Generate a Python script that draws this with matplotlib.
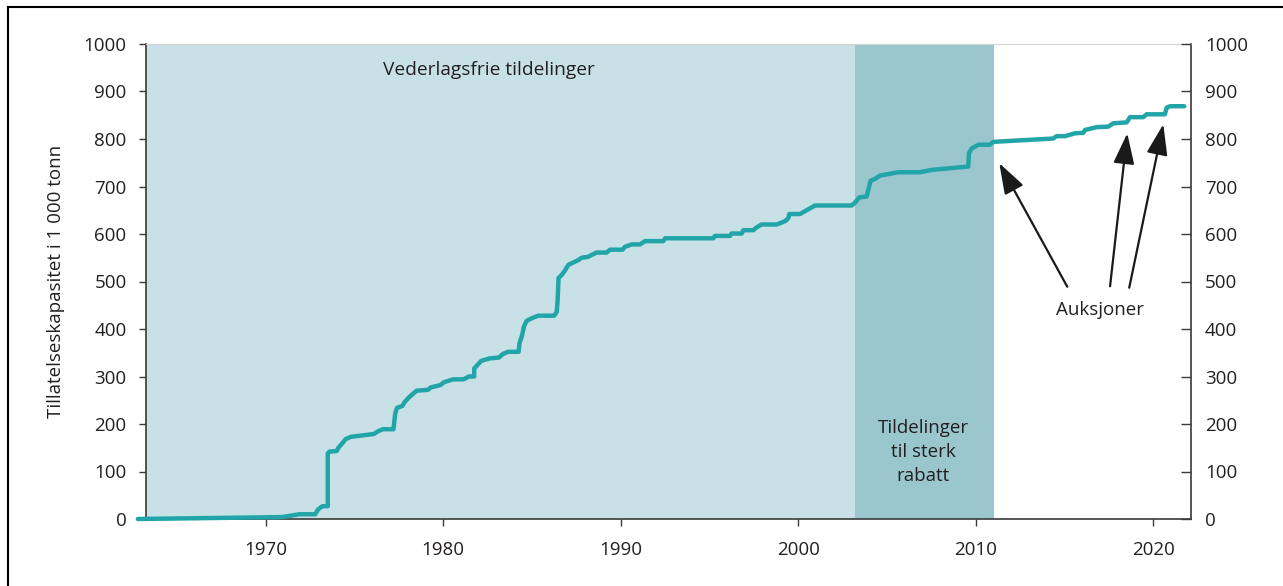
import matplotlib
matplotlib.use("Agg")
import matplotlib.pyplot as plt
from matplotlib.lines import Line2D

plt.rcParams['font.family'] = ['Open Sans', 'DejaVu Sans']

# year / allowed capacity (1000 tonn)
years = [1962.8, 1970.9, 1971.9, 1972.8, 1972.95, 1973.2, 1973.5, 1973.5, 1973.6, 1974.0,
         1974.1, 1974.4, 1974.5, 1974.8, 1976.1, 1976.3, 1976.6, 1977.2, 1977.3, 1977.4,
         1977.7, 1977.85, 1978.1, 1978.5, 1979.15, 1979.3, 1979.85, 1980.05, 1980.55, 1981.15,
         1981.45, 1981.75, 1981.75, 1982.15, 1982.6, 1983.15, 1983.35, 1983.65, 1984.25, 1984.3,
         1984.45, 1984.55, 1984.7, 1984.95, 1985.35, 1986.25, 1986.4, 1986.45, 1986.5, 1986.68,
         1986.86, 1987.05, 1987.33, 1987.61, 1987.8, 1988.17, 1988.37, 1988.65, 1989.21, 1989.4,
         1990.11, 1990.24, 1990.62, 1991.09, 1991.37, 1992.4, 1992.5, 1995.22, 1995.31, 1996.16,
         1996.25, 1996.82, 1996.91, 1997.47, 1997.66, 1997.94, 1998.79, 1999.26, 1999.44, 1999.5,
         2000.1, 2000.95, 2003.01, 2003.2, 2003.44, 2003.86, 2003.95, 2004.08, 2004.33, 2004.61,
         2005.64, 2006.86, 2007.52, 2009.58, 2009.62, 2009.77, 2010.15, 2010.81, 2010.99, 2014.37,
         2014.56, 2015.03, 2015.59, 2016.06, 2016.16, 2016.82, 2017.47, 2017.75, 2018.51, 2018.69,
         2019.44, 2019.63, 2020.66, 2020.76, 2020.95, 2021.75]
capacity = [0, 4, 10, 10, 20, 27, 27, 138, 142, 143,
            150, 163, 168, 173, 179, 184, 189, 189, 222, 234,
            238, 247, 257, 270, 272, 277, 282, 288, 294, 294,
            300, 300, 317, 333, 338, 340, 347, 352, 352, 370,
            387, 405, 417, 422, 428, 428, 436, 461, 507, 514,
            523, 535, 540, 545, 550, 552, 556, 561, 561, 567,
            567, 573, 578, 578, 585, 585, 591, 591, 596, 596,
            601, 601, 608, 608, 614, 620, 620, 627, 633, 642,
            642, 660, 660, 666, 677, 679, 693, 712, 716, 723,
            730, 730, 735, 742, 770, 780, 788, 788, 794, 801,
            806, 806, 812, 813, 819, 825, 826, 833, 835, 846,
            846, 852, 852, 866, 869, 869]

free_period = (1963.26, 2003.21)
discount_period = (2003.21, 2011.05)

# arrows: (tail, tip)
arrows = [((2015.16, 489), (2011.33, 749)),
          ((2017.57, 490), (2018.54, 812)),
          ((2018.65, 487), (2020.57, 831))]

fig = plt.figure(figsize=(12.83, 5.86), dpi=100)
ax = fig.add_axes([146/1283, 1-519/586, (1191-146)/1283, (519-44)/586])

dark = '#231f20'
ax.axvspan(*free_period, ymin=0, ymax=1, color='#c8e1e6', lw=0, zorder=0)
ax.axvspan(*discount_period, ymin=0, ymax=1, color='#99c7cd', lw=0, zorder=0)

ax.plot(years, capacity, color='#22a5a8', lw=3.2, solid_capstyle='round',
        solid_joinstyle='round', clip_on=False, zorder=3)

ax.set_xlim(1963.26, 2022.13)
ax.set_ylim(0, 1000)
ax.set_xticks([1970, 1980, 1990, 2000, 2010, 2020])
ax.set_yticks(range(0, 1001, 100))

ax.spines['top'].set_color('#d4d4d4')
for s in ['left', 'bottom', 'right']:
    ax.spines[s].set_color('#3a3a3a')
    ax.spines[s].set_linewidth(1.2)

ax.tick_params(axis='x', direction='out', length=5, width=1, color='#3a3a3a',
               labelsize=13.5, labelcolor=dark, pad=11)
ax.tick_params(axis='y', direction='out', length=5, width=1, color='#3a3a3a',
               labelsize=13.5, labelcolor=dark, pad=9)

ax2 = ax.twinx()
ax2.set_ylim(0, 1000)
ax2.set_yticks(range(0, 1001, 100))
ax2.tick_params(axis='y', direction='in', length=7, width=1, color='#3a3a3a',
                labelsize=13.5, labelcolor=dark, pad=10)
for s in ax2.spines.values():
    s.set_visible(False)

fig.text(56/1283, 1-281/586, 'Tillatelseskapasitet i 1 000 tonn', rotation=90,
         ha='center', va='center', fontsize=13.5, color=dark)

ax.text(1982.58, 945, 'Vederlagsfrie tildelinger', ha='center', va='center',
        fontsize=13.8, color=dark)
ax.text(2007.03, 141, 'Tildelinger\ntil sterk\nrabatt', ha='center', va='center',
        fontsize=13.5, color=dark, linespacing=1.45)
ax.text(2017.0, 440, 'Auksjoner', ha='center', va='center', fontsize=13.5, color=dark)

for tail, tip in arrows:
    ax.annotate('', xy=tip, xytext=tail,
                arrowprops=dict(arrowstyle='-|>,head_length=1.05,head_width=0.36',
                                color='#1a1a1a', lw=1.6, mutation_scale=18,
                                shrinkA=0, shrinkB=0))

# frame around the figure
fig.add_artist(Line2D([8/1283, 8/1283], [0, 1-7/586], color='black', lw=1.5))
fig.add_artist(Line2D([8/1283, 1], [1-7/586, 1-7/586], color='black', lw=1.5))

fig.savefig('out.png', dpi=100)
